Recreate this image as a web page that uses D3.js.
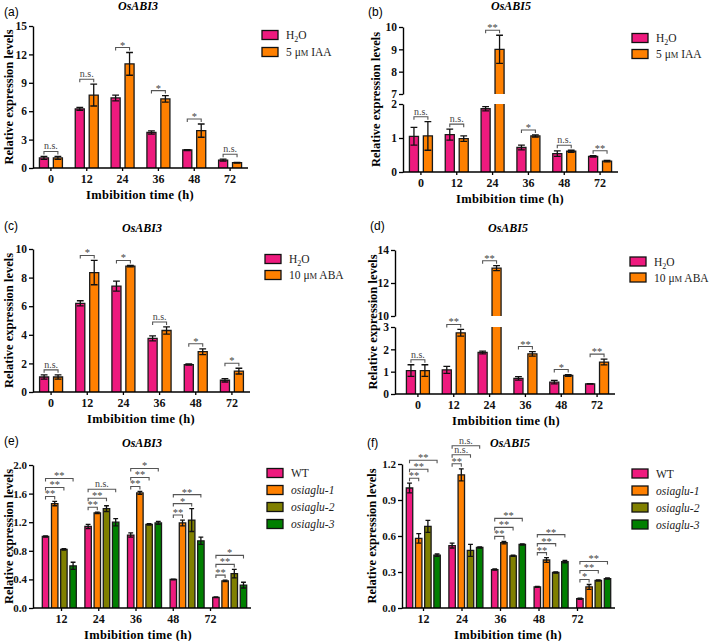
<!DOCTYPE html>
<html>
<head>
<meta charset="utf-8">
<script src="https://cdn.jsdelivr.net/npm/d3@7"></script>
<style>
body { margin: 0; background: #fff; }
text { font-family: "Liberation Serif", "Times New Roman", serif; }
</style>
</head>
<body>
<div id="fig"></div>
<script>
// categories
const hours6 = ["0", "12", "24", "36", "48", "72"];
const hours5 = ["12", "24", "36", "48", "72"];
const iaaNames = ["H2O", "5 μM IAA"];
const abaNames = ["H2O", "10 μM ABA"];
const lineNames = ["WT", "osiaglu-1", "osiaglu-2", "osiaglu-3"];

const pink = "#EE1A7E", orange = "#FF8000", olive = "#808000", green = "#008000";

// (a) OsABI3, IAA
const a_h2o = [1.07, 6.25, 7.4, 3.75, 1.9, 0.83];
const a_h2oErr = [0.15, 0.15, 0.3, 0.18, 0.05, 0.1];
const a_iaa = [1.07, 7.7, 11.0, 7.3, 3.95, 0.56];
const a_iaaErr = [0.15, 1.15, 1.2, 0.35, 0.7, 0.03];
const a_sig = ["n.s.", "n.s.", "*", "*", "*", "n.s."];

// (b) OsABI5, IAA
const b_h2o = [1.05, 1.1, 1.86, 0.72, 0.54, 0.46];
const b_h2oErr = [0.26, 0.16, 0.06, 0.07, 0.08, 0.02];
const b_iaa = [1.06, 0.98, 9.0, 1.06, 0.61, 0.32];
const b_iaaErr = [0.42, 0.08, 0.63, 0.03, 0.03, 0.02];
const b_sig = ["n.s.", "n.s.", "**", "*", "n.s.", "**"];

// (c) OsABI3, ABA
const c_h2o = [1.05, 6.2, 7.4, 3.75, 1.92, 0.82];
const c_h2oErr = [0.15, 0.18, 0.35, 0.18, 0.04, 0.12];
const c_aba = [1.05, 8.35, 8.8, 4.3, 2.82, 1.46];
const c_abaErr = [0.15, 0.85, 0.05, 0.25, 0.2, 0.2];
const c_sig = ["n.s.", "*", "*", "n.s.", "*", "*"];

// (d) OsABI5, ABA
const d_h2o = [1.05, 1.08, 1.86, 0.7, 0.53, 0.45];
const d_h2oErr = [0.26, 0.16, 0.06, 0.08, 0.08, 0.01];
const d_aba = [1.05, 2.74, 12.9, 1.8, 0.83, 1.43];
const d_abaErr = [0.26, 0.15, 0.15, 0.1, 0.04, 0.13];
const d_sig = ["n.s.", "**", "**", "**", "*", "**"];

// (e) OsABI3, lines
const e_wt = [1.0, 1.14, 1.02, 0.4, 0.15];
const e_wtErr = [0.01, 0.03, 0.03, 0.005, 0.005];
const e_l1 = [1.46, 1.33, 1.61, 1.19, 0.38];
const e_l1Err = [0.03, 0.01, 0.02, 0.04, 0.01];
const e_l2 = [0.82, 1.39, 1.17, 1.23, 0.48];
const e_l2Err = [0.01, 0.04, 0.01, 0.16, 0.06];
const e_l3 = [0.59, 1.2, 1.19, 0.94, 0.32];
const e_l3Err = [0.05, 0.05, 0.02, 0.05, 0.04];
const e_sig = [["**", "**", "**"], ["**", "**", "n.s."], ["**", "**", "*"], ["**", "*", "**"], ["**", "**", "*"]];

// (f) OsABI5, lines
const f_wt = [1.0, 0.52, 0.32, 0.176, 0.078];
const f_wtErr = [0.04, 0.02, 0.005, 0.003, 0.005];
const f_l1 = [0.58, 1.11, 0.545, 0.4, 0.176];
const f_l1Err = [0.04, 0.05, 0.01, 0.02, 0.02];
const f_l2 = [0.68, 0.48, 0.435, 0.296, 0.23];
const f_l2Err = [0.05, 0.05, 0.005, 0.005, 0.005];
const f_l3 = [0.44, 0.505, 0.53, 0.387, 0.245];
const f_l3Err = [0.01, 0.005, 0.005, 0.01, 0.005];
const f_sig = [["**", "**", "**"], ["**", "n.s.", "n.s."], ["**", "**", "**"], ["**", "**", "**"], ["*", "**", "**"]];

const panels = [
    {tag: "(a)", tagX: 4, tagY: 16, gene: "OsABI3", geneX: 138, geneY: 9.5,
     axisX: 33, xr: [33, 248], yTitleX: 13, xTitleX: 140, tickFs: 11.5,
     segs: [{d: [0, 15], r: [168, 26], ticks: [0, 3, 6, 9, 12, 15]}],
     cats: hours6, names: iaaNames, colors: [pink, orange],
     vals: [a_h2o, a_iaa], errs: [a_h2oErr, a_iaaErr], sig: a_sig.map(s => [s]),
     leg: [262, 35, 17]},
    {tag: "(b)", tagX: 368, tagY: 16, gene: "OsABI5", geneX: 511, geneY: 9.5,
     axisX: 403, xr: [403, 618], yTitleX: 380, xTitleX: 510, tickFs: 11.5,
     segs: [{d: [0, 2], r: [172, 104], ticks: [0, 1, 2]}, {d: [7, 10], r: [94, 27], ticks: [7, 8, 9, 10]}],
     cats: hours6, names: iaaNames, colors: [pink, orange],
     vals: [b_h2o, b_iaa], errs: [b_h2oErr, b_iaaErr], sig: b_sig.map(s => [s]),
     leg: [632, 38, 16]},
    {tag: "(c)", tagX: 4, tagY: 230, gene: "OsABI3", geneX: 142, geneY: 232,
     axisX: 33, xr: [33, 250], yTitleX: 13, xTitleX: 141, tickFs: 11.5,
     segs: [{d: [0, 10], r: [392, 249], ticks: [0, 2, 4, 6, 8, 10]}],
     cats: hours6, names: abaNames, colors: [pink, orange],
     vals: [c_h2o, c_aba], errs: [c_h2oErr, c_abaErr], sig: c_sig.map(s => [s]),
     leg: [265, 259, 16]},
    {tag: "(d)", tagX: 370, tagY: 230, gene: "OsABI5", geneX: 508, geneY: 232,
     axisX: 395, xr: [400, 615], yTitleX: 377, xTitleX: 506, tickFs: 11.5,
     segs: [{d: [0, 3], r: [394, 327], ticks: [0, 1, 2, 3]}, {d: [10, 14], r: [316, 250], ticks: [10, 12, 14]}],
     cats: hours6, names: abaNames, colors: [pink, orange],
     vals: [d_h2o, d_aba], errs: [d_h2oErr, d_abaErr], sig: d_sig.map(s => [s]),
     leg: [630, 261.5, 16]},
    {tag: "(e)", tagX: 4, tagY: 445, gene: "OsABI3", geneX: 142, geneY: 447,
     axisX: 33, xr: [38, 251], lr: [61, 210], yTitleX: 13, xTitleX: 138, tickFs: 11,
     segs: [{d: [0, 2], r: [608, 465], ticks: [0, 0.4, 0.8, 1.2, 1.6, 2.0]}], fmt: ".1f",
     cats: hours5, names: lineNames, colors: [pink, orange, olive, green],
     vals: [e_wt, e_l1, e_l2, e_l3], errs: [e_wtErr, e_l1Err, e_l2Err, e_l3Err], sig: e_sig,
     leg: [267, 473, 17]},
    {tag: "(f)", tagX: 367, tagY: 447, gene: "OsABI5", geneX: 510, geneY: 447,
     axisX: 402, xr: [402, 615], lr: [423, 577], yTitleX: 376, xTitleX: 508, tickFs: 11,
     segs: [{d: [0, 1.2], r: [608, 464], ticks: [0, 0.3, 0.6, 0.9, 1.2]}], fmt: ".1f",
     cats: hours5, names: lineNames, colors: [pink, orange, olive, green],
     vals: [f_wt, f_l1, f_l2, f_l3], errs: [f_wtErr, f_l1Err, f_l2Err, f_l3Err], sig: f_sig,
     leg: [632, 473.5, 17]}
];

const svg = d3.select("#fig").append("svg")
    .attr("width", 709).attr("height", 641);
svg.append("rect").attr("width", 709).attr("height", 641).attr("fill", "#fff");

panels.forEach(drawPanel);

function drawPanel(p) {
    const g = svg.append("g");
    const segs = p.segs.map(s => ({d: s.d, ticks: s.ticks, y: d3.scaleLinear().domain(s.d).range(s.r)}));
    const yv = v => {
        let s = segs[0];
        segs.forEach(t => { if (v >= t.d[0]) s = t; });
        return s.y(v);
    };
    const n = p.names.length;
    const x0 = d3.scaleBand().domain(p.cats).range(p.xr);
    const half = n == 2 ? 11.5 : 17;
    const x1 = d3.scaleBand().domain(d3.range(n)).range([-half, half]).paddingInner(n == 2 ? 0.35 : 0.3);
    const bw = x1.bandwidth();
    const base = segs[0].y(0);
    const barX = (c, k) => x0(c) + x0.bandwidth() / 2 + x1(k);

    // bars
    p.cats.forEach((c, i) => {
        for (let k = 0; k < n; k++) {
            const v = p.vals[k][i];
            const xl = barX(c, k);
            segs.forEach(s => {
                if (v <= s.d[0]) return;
                const top = Math.min(v, s.d[1]);
                const y0 = s.y(s.d[0]), y1 = s.y(top);
                g.append("rect")
                    .attr("x", xl).attr("y", y1)
                    .attr("width", bw).attr("height", y0 - y1)
                    .attr("fill", p.colors[k]);
                let d = "M" + xl + "," + y0 + "V" + y1;
                d += (v <= s.d[1]) ? "H" + (xl + bw) : "M" + (xl + bw) + "," + y1;
                d += "V" + y0;
                g.append("path").attr("d", d)
                    .attr("fill", "none").attr("stroke", "#1a1a1a").attr("stroke-width", 1.3);
            });
        }
    });

    // error bars
    p.cats.forEach((c, i) => {
        for (let k = 0; k < n; k++) {
            const v = p.vals[k][i], e = p.errs[k][i];
            const cx = barX(c, k) + bw / 2, cw = bw * 0.75;
            const yt = yv(v + e), yb = yv(v - e);
            g.append("path")
                .attr("d", "M" + cx + "," + yb + "V" + yt +
                    "M" + (cx - cw / 2) + "," + yt + "h" + cw +
                    "M" + (cx - cw / 2) + "," + yb + "h" + cw)
                .attr("fill", "none").attr("stroke", "#111").attr("stroke-width", 1.3);
        }
    });

    // significance brackets
    p.cats.forEach((c, i) => {
        let prev = Infinity;
        for (let k = 1; k < n; k++) {
            let lvl = Infinity;
            for (let j = 0; j <= k; j++) lvl = Math.min(lvl, yv(p.vals[j][i] + p.errs[j][i]) - 5);
            lvl = Math.min(lvl, prev - 9);
            prev = lvl;
            const xa = barX(c, 0) + bw / 2, xb = barX(c, k) + bw / 2;
            g.append("path")
                .attr("d", "M" + xa + "," + (lvl + 3) + "V" + lvl + "H" + xb + "V" + (lvl + 3))
                .attr("fill", "none").attr("stroke", "#555").attr("stroke-width", 1.1);
            const s = p.sig[i][k - 1];
            g.append("text")
                .attr("x", (xa + xb) / 2)
                .attr("y", s == "n.s." ? lvl - 2 : lvl + 1)
                .attr("text-anchor", "middle")
                .attr("font-size", s == "n.s." ? 10 : 10.5)
                .attr("fill", "#444")
                .text(s);
        }
    });

    // y axis (one piece per segment)
    segs.forEach(s => {
        const ax = d3.axisLeft(s.y).tickValues(s.ticks).tickSize(4).tickSizeOuter(0).tickPadding(2)
            .tickFormat(d3.format(p.fmt || "d"));
        const ag = g.append("g").attr("transform", "translate(" + p.axisX + ",0)").call(ax);
        styleAxis(ag, p.tickFs);
    });

    // x axis
    const lx = p.lr ? d3.scalePoint().domain(p.cats).range(p.lr) : x0;
    const xg = g.append("g").attr("transform", "translate(0," + base + ")")
        .call(d3.axisBottom(lx).tickSize(3).tickSizeOuter(0).tickPadding(3));
    xg.select(".domain").remove();
    styleAxis(xg, 12);
    g.append("line")
        .attr("x1", p.axisX).attr("x2", p.xr[1])
        .attr("y1", base).attr("y2", base)
        .attr("stroke", "#000").attr("stroke-width", 1.4);

    // titles
    g.append("text")
        .attr("x", p.xTitleX).attr("y", base + 31)
        .attr("text-anchor", "middle")
        .attr("font-size", 12.5).attr("font-weight", "bold")
        .attr("letter-spacing", 0.3)
        .text("Imbibition time (h)");
    const top = d3.min(segs, s => s.y(s.d[1]));
    g.append("text")
        .attr("transform", "translate(" + p.yTitleX + "," + (base + top) / 2 + ") rotate(-90)")
        .attr("text-anchor", "middle")
        .attr("font-size", 12.5).attr("font-weight", "bold")
        .text("Relative expression levels");
    g.append("text")
        .attr("x", p.geneX).attr("y", p.geneY)
        .attr("text-anchor", "middle")
        .attr("font-size", 12).attr("font-weight", "bold").attr("font-style", "italic")
        .text(p.gene);
    g.append("text")
        .attr("x", p.tagX).attr("y", p.tagY)
        .attr("font-size", 12)
        .style("font-family", "'Liberation Sans', Arial, sans-serif")
        .text(p.tag);

    // legend
    const [lx0, ly0, ldy] = p.leg;
    p.names.forEach((name, k) => {
        const cy = ly0 + k * ldy;
        g.append("rect")
            .attr("x", lx0).attr("y", cy - 4.5)
            .attr("width", 16).attr("height", 9)
            .attr("fill", p.colors[k]).attr("stroke", "#111").attr("stroke-width", 1.3);
        const t = g.append("text")
            .attr("x", lx0 + 24).attr("y", cy + 4)
            .attr("font-size", 11.5).attr("fill", "#222");
        if (name == "H2O") {
            t.append("tspan").text("H");
            t.append("tspan").attr("font-size", 8).attr("dy", 3).text("2");
            t.append("tspan").attr("dy", -3).text("O");
        } else if (name.indexOf("μM") >= 0) {
            const parts = name.split("μM");
            t.append("tspan").text(parts[0] + "μ");
            t.append("tspan").attr("font-size", 8.5).text("M");
            t.append("tspan").text(parts[1]);
        } else {
            t.text(name);
            if (name != "WT") t.attr("font-style", "italic");
        }
    });
}

function styleAxis(ag, fs) {
    ag.select(".domain").attr("stroke", "#000").attr("stroke-width", 1.4);
    ag.selectAll(".tick line").attr("stroke", "#000").attr("stroke-width", 1.3);
    ag.selectAll(".tick text")
        .attr("fill", "#111")
        .attr("font-family", "'Liberation Serif', 'Times New Roman', serif")
        .attr("font-size", fs)
        .attr("font-weight", "bold");
}
</script>
</body>
</html>
